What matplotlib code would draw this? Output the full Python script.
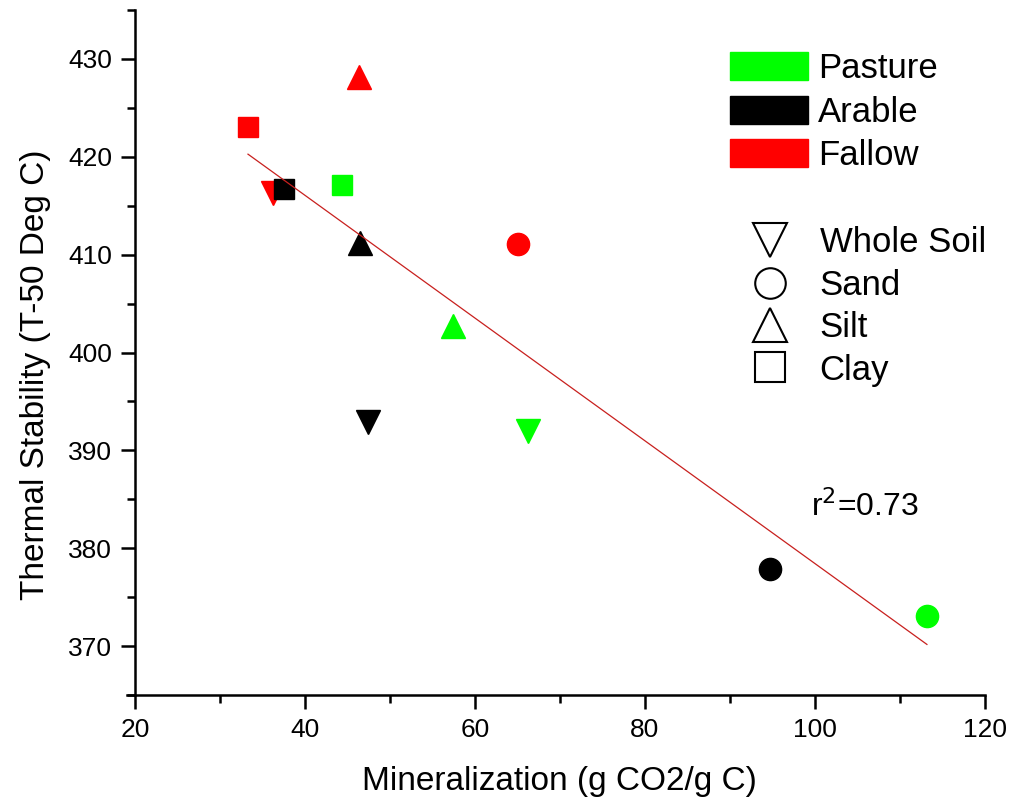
import numpy as np
import matplotlib
matplotlib.use('Agg')
import matplotlib.pyplot as plt
from matplotlib.patches import Patch
from matplotlib.lines import Line2D
from matplotlib.ticker import MultipleLocator

plt.rcParams['font.family'] = ['Liberation Sans', 'DejaVu Sans']

land_use = ["Pasture", "Arable", "Fallow"]
fractions = ["Whole Soil", "Sand", "Silt", "Clay"]
colors = ["#00ff00", "#000000", "#ff0000"]
markers = ["v", "o", "^", "s"]
msizes = [17, 16, 17, 14.5]
leg_msizes = [25, 22, 25, 21]

# values per land use, in order of fractions
pasture_x = [66.2, 113.2, 57.4, 44.4]
pasture_y = [392.0, 373.1, 402.7, 417.1]
arable_x = [47.4, 94.7, 46.5, 37.5]
arable_y = [392.9, 377.9, 411.2, 416.7]
fallow_x = [36.2, 65.1, 46.4, 33.3]
fallow_y = [416.3, 411.1, 428.2, 423.0]

xs = [pasture_x, arable_x, fallow_x]
ys = [pasture_y, arable_y, fallow_y]

fig = plt.figure(figsize=(10.11, 8.05), dpi=100)
ax = fig.add_axes([0.1335, 0.1366, 0.8405, 0.851])

draw_order = [2, 0, 1]
for i in draw_order:
    for j in range(4):
        ax.plot(xs[i][j], ys[i][j], marker=markers[j], ms=msizes[j],
                color=colors[i], mec=colors[i], ls="none", zorder=3)

# linear fit through all points
allx = np.array(pasture_x + arable_x + fallow_x)
ally = np.array(pasture_y + arable_y + fallow_y)
p = np.polyfit(allx, ally, 1)
xl = np.array([allx.min(), allx.max()])
ax.plot(xl, np.polyval(p, xl), color="#c8201e", lw=0.9, zorder=4)

ax.text(99.6, 384.2, "r$^2$=0.73", fontsize=23, va="center", ha="left")

ax.set_xlim(20, 120)
ax.set_ylim(365, 435)
ax.xaxis.set_major_locator(MultipleLocator(20))
ax.xaxis.set_minor_locator(MultipleLocator(10))
ax.set_yticks(np.arange(370, 431, 10))
ax.yaxis.set_minor_locator(MultipleLocator(5))
ax.spines["top"].set_visible(False)
ax.spines["right"].set_visible(False)
ax.spines["left"].set_linewidth(1.8)
ax.spines["bottom"].set_linewidth(1.8)
ax.spines["bottom"].set_bounds(19.1, 120)
ax.tick_params(which="major", direction="out", length=10, width=1.8, labelsize=19, pad=6.5)
ax.tick_params(which="minor", direction="out", length=5.5, width=1.8)
ax.set_xlabel("Mineralization (g CO2/g C)", fontsize=24)
ax.set_ylabel("Thermal Stability (T-50 Deg C)", fontsize=24)
ax.xaxis.set_label_coords(0.5, -0.104)
ax.yaxis.set_label_coords(-0.099, 0.467)

h1 = [Patch(facecolor=c, edgecolor=c) for c in colors]
leg1 = ax.legend(h1, land_use, loc="upper left", bbox_to_anchor=(0.7, 0.938),
                 frameon=False, fontsize=25, handlelength=2.25, handleheight=0.865,
                 labelspacing=0.29, handletextpad=0.29, borderaxespad=0, borderpad=0)
ax.add_artist(leg1)

h2 = [Line2D([], [], marker=m, ms=s, mfc="white", mec="black", mew=1.5, ls="none")
      for m, s in zip(markers, leg_msizes)]
ax.legend(h2, fractions, loc="upper left", bbox_to_anchor=(0.7224, 0.684),
          frameon=False, fontsize=25, handlelength=1.2, labelspacing=0.27,
          handletextpad=0.84, borderaxespad=0, borderpad=0)

fig.savefig("out.png", dpi=100)
